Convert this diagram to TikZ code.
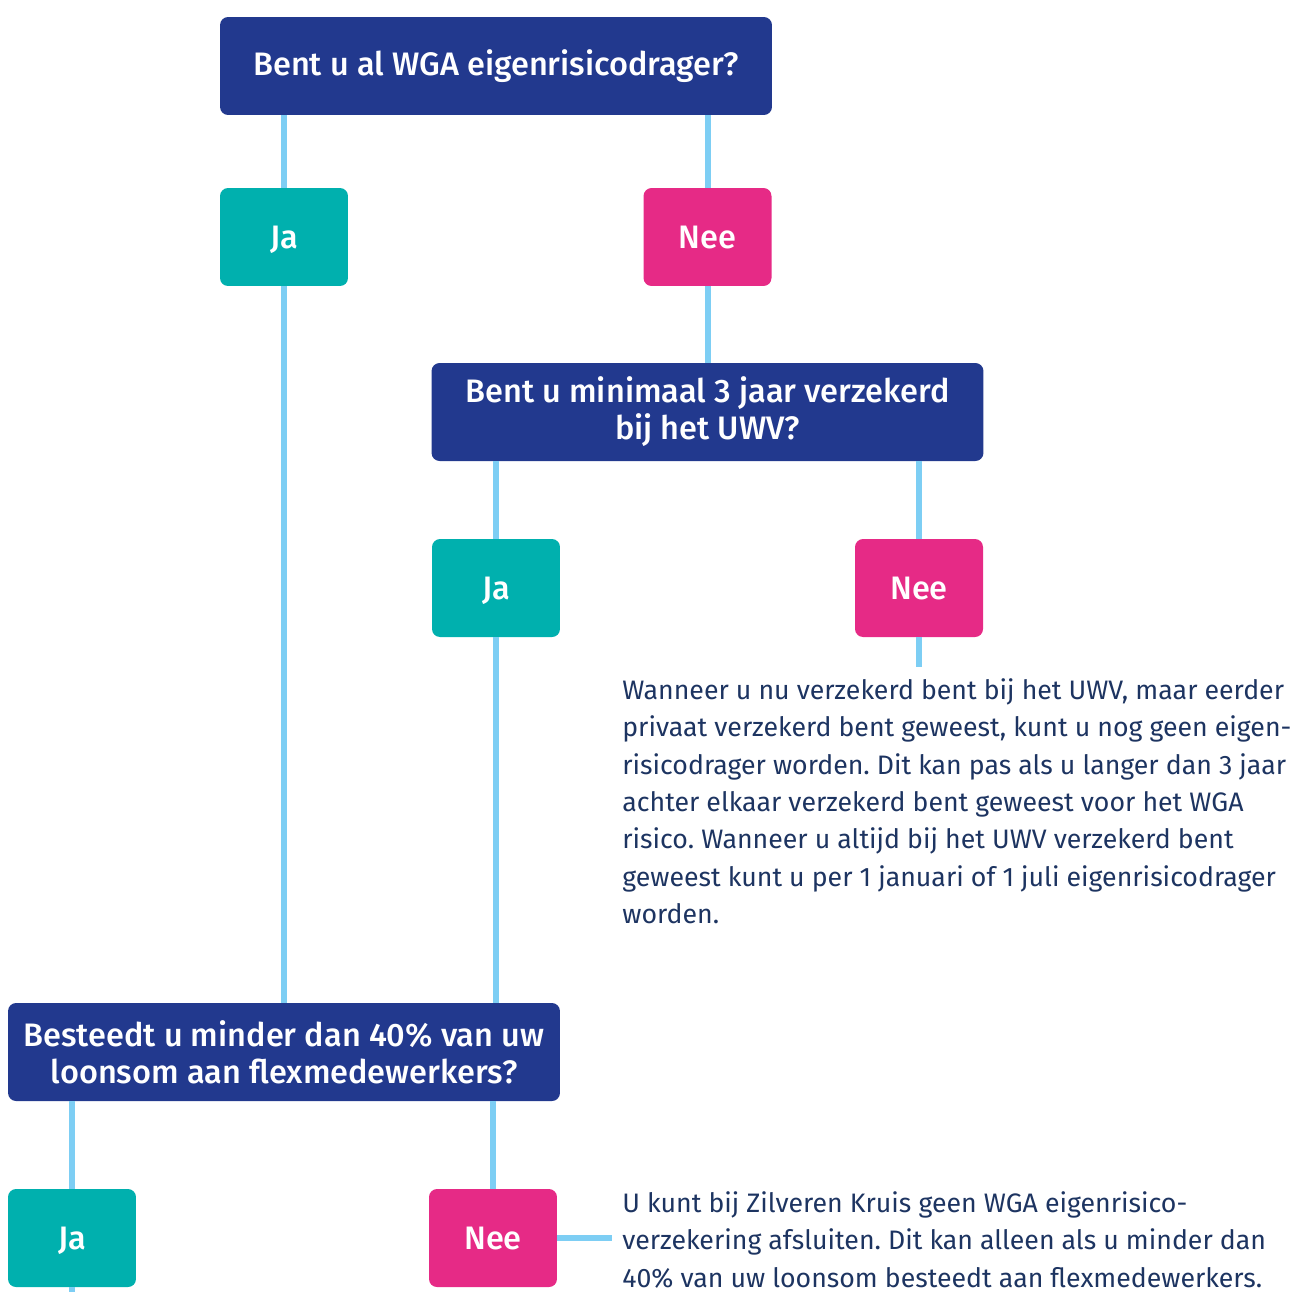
\documentclass[tikz,border=0pt]{standalone}
\usepackage{fontspec}
\usepackage{xcolor}
\usetikzlibrary{positioning}
\setmainfont{Fira Sans}
\newfontfamily\boxfont{Fira Sans Medium}
\definecolor{wgablue}{HTML}{22398E}
\definecolor{wgateal}{HTML}{00B0AE}
\definecolor{wgapink}{HTML}{E62A86}
\definecolor{wgaline}{HTML}{7DCEF4}
\definecolor{wgatext}{HTML}{1D3461}
\frenchspacing
\tikzset{
  qbox/.style={fill=wgablue,text=white,rounded corners=0.16cm,minimum width=11.04cm,minimum height=1.96cm,
    align=center,font=\boxfont\fontsize{18.5}{21}\selectfont,inner sep=0pt},
  jabox/.style={fill=wgateal,text=white,rounded corners=0.16cm,minimum width=2.56cm,minimum height=1.96cm,
    font=\boxfont\fontsize{18.5}{21}\selectfont,inner sep=0pt,text depth=0pt},
  neebox/.style={jabox,fill=wgapink},
  link/.style={draw=wgaline,line width=0.12cm},
  info/.style={text=wgatext,align=left,anchor=north west,inner sep=0pt,
    font=\fontsize{15.2}{21.3}\selectfont}
}
\begin{document}
\begin{tikzpicture}[x=0.02cm,y=-0.02cm]
  \useasboundingbox (0,0) rectangle (1310,1292);
  % vragen
  \node[qbox] at(496,66)(q1){Bent u al WGA eigenrisicodrager?};
  \node[qbox] at(707.5,412)(q2){Bent u minimaal 3 jaar verzekerd\\bij het UWV?};
  \node[qbox] at(284,1052)(q3){Besteedt u minder dan 40\% van uw\\loonsom aan flexmedewerkers?};
  % antwoorden
  \node[jabox] at(284,237)(ja1){Ja};
  \node[neebox] at(707.5,237)(nee1){Nee};
  \node[jabox] at(496,588)(ja2){Ja};
  \node[neebox] at(919,588)(nee2){Nee};
  \node[jabox] at(72,1238)(ja3){Ja};
  \node[neebox] at(493,1238)(nee3){Nee};
  % toelichting
  \node[info] at(622,678)(info1){Wanneer u nu verzekerd bent bij het UWV, maar eerder\\
    privaat verzekerd bent geweest, kunt u nog geen eigen-\\
    risicodrager worden. Dit kan pas als u langer dan 3 jaar\\
    achter elkaar verzekerd bent geweest voor het WGA\\
    risico. Wanneer u altijd bij het UWV verzekerd bent\\
    geweest kunt u per 1 januari of 1 juli eigenrisicodrager\\
    worden.};
  \node[info] at(622,1191)(info2){U kunt bij Zilveren Kruis geen WGA eigenrisico-\\
    verzekering afsluiten. Dit kan alleen als u minder dan\\
    40\% van uw loonsom besteedt aan flexmedewerkers.};
  \coordinate (end2) at(919,667);
  \coordinate (end3) at(72,1292);
  \coordinate (end4) at(612,1240);
  % lijnen
  \draw[link] (ja1.north) -- (ja1 |- q1.south);
  \draw[link] (nee1.north) -- (nee1 |- q1.south);
  \draw[link] (ja1.south) -- (q3.north);
  \draw[link] (nee1.south) -- (q2.north);
  \draw[link] (ja2.north) -- (ja2 |- q2.south);
  \draw[link] (nee2.north) -- (nee2 |- q2.south);
  \draw[link] (ja2.south) -- (ja2 |- q3.north);
  \draw[link] (nee2.south) -- (end2);
  \draw[link] (ja3.north) -- (ja3 |- q3.south);
  \draw[link] (nee3.north) -- (nee3 |- q3.south);
  \draw[link] (ja3.south) -- (end3);
  \draw[link] (nee3.east) -- (nee3.east -| end4);
\end{tikzpicture}
\end{document}
